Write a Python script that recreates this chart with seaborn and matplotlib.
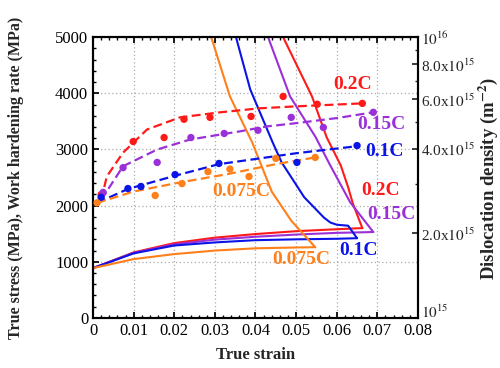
import numpy as np
import pandas as pd
import matplotlib
matplotlib.use("Agg")
import matplotlib.pyplot as plt
import seaborn as sns
from matplotlib.ticker import MultipleLocator, FixedLocator, NullFormatter, FixedFormatter

sns.set_theme(style="white")
plt.rcParams['font.family'] = ['Liberation Serif', 'DejaVu Serif']
plt.rcParams['mathtext.fontset'] = 'stix'

colors = {"0.2C": "#ff1a1a", "0.15C": "#9b30d9", "0.1C": "#0a14e6", "0.075C": "#ff7f1a"}

# True stress curves (MPa)
stress_x = {
    "0.2C":   [0.0, 0.01, 0.02, 0.03, 0.04, 0.05, 0.06, 0.0663],
    "0.15C":  [0.0, 0.01, 0.02, 0.03, 0.04, 0.05, 0.06, 0.069],
    "0.1C":   [0.0, 0.01, 0.02, 0.03, 0.04, 0.05, 0.06, 0.065],
    "0.075C": [0.0, 0.01, 0.02, 0.03, 0.04, 0.05, 0.0547],
}
stress_y = {
    "0.2C":   [887, 1167, 1333, 1430, 1494, 1545, 1580, 1600],
    "0.15C":  [887, 1160, 1310, 1395, 1446, 1485, 1515, 1530],
    "0.1C":   [887, 1150, 1290, 1345, 1385, 1400, 1410, 1420],
    "0.075C": [887, 1048, 1137, 1200, 1240, 1255, 1260],
}

# Work hardening rate curves (MPa)
whr_x = {
    "0.2C":   [0.0468, 0.0539, 0.0575, 0.0610, 0.0628, 0.0640, 0.0663],
    "0.15C":  [0.0431, 0.0485, 0.0548, 0.0582, 0.0633, 0.0690],
    "0.1C":   [0.0352, 0.0387, 0.0442, 0.0464, 0.0520, 0.0544, 0.0568, 0.0584, 0.0600, 0.0628, 0.0650],
    "0.075C": [0.0291, 0.0337, 0.0392, 0.0440, 0.0488, 0.0547],
}
whr_y = {
    "0.2C":   [5000, 3946, 3220, 2714, 2327, 2030, 1600],
    "0.15C":  [5000, 3946, 3220, 2744, 2060, 1530],
    "0.1C":   [5000, 4070, 3130, 2774, 2149, 1970, 1790, 1700, 1660, 1643, 1420],
    "0.075C": [5000, 3946, 3125, 2250, 1732, 1260],
}

# Dislocation density (x1e15 m^-2): fitted dashed curves
fit_x = {
    "0.2C":   [0.002, 0.0034, 0.0074, 0.0133, 0.0214, 0.0313, 0.041, 0.050, 0.0663],
    "0.15C":  [0.002, 0.0074, 0.0158, 0.0239, 0.0362, 0.0428, 0.050, 0.060, 0.069],
    "0.1C":   [0.001, 0.0086, 0.0202, 0.031, 0.050, 0.065],
    "0.075C": [0.001, 0.010, 0.022, 0.033, 0.045, 0.0547],
}
fit_rho = {
    "0.2C":   [2.63, 3.19, 3.88, 4.69, 5.18, 5.40, 5.58, 5.67, 5.81],
    "0.15C":  [2.63, 3.47, 3.98, 4.32, 4.62, 4.81, 4.94, 5.15, 5.40],
    "0.1C":   [2.57, 2.88, 3.21, 3.53, 3.86, 4.09],
    "0.075C": [2.57, 2.82, 3.05, 3.25, 3.53, 3.73],
}
# Dislocation density measured points (x1e15 m^-2)
pts_x = {
    "0.2C":   [0.002, 0.0099, 0.0175, 0.0224, 0.0288, 0.0389, 0.0468, 0.0552, 0.0663],
    "0.15C":  [0.0025, 0.0074, 0.0158, 0.0241, 0.0323, 0.0406, 0.0488, 0.0567, 0.069],
    "0.1C":   [0.002, 0.0086, 0.0118, 0.0202, 0.031, 0.0502, 0.065],
    "0.075C": [0.001, 0.0153, 0.0219, 0.0283, 0.0337, 0.0384, 0.045, 0.0547],
}
pts_rho = {
    "0.2C":   [2.75, 4.25, 4.39, 5.10, 5.18, 5.22, 6.15, 5.77, 5.81],
    "0.15C":  [2.80, 3.43, 3.58, 4.39, 4.54, 4.66, 5.18, 4.77, 5.40],
    "0.1C":   [2.69, 2.89, 2.94, 3.24, 3.55, 3.58, 4.11],
    "0.075C": [2.57, 2.73, 3.01, 3.32, 3.39, 3.19, 3.70, 3.73],
}

x_ticks = [0.0, 0.01, 0.02, 0.03, 0.04, 0.05, 0.06, 0.07, 0.08]
x_tick_labels = ["0", "0.01", "0.02", "0.03", "0.04", "0.05", "0.06", "0.07", "0.08"]
rho_ticks = [1e15, 2e15, 4e15, 6e15, 8e15, 1e16]
rho_labels = ["$10^{15}$", "2.0x$10^{15}$", "4.0x$10^{15}$", "6.0x$10^{15}$", "8.0x$10^{15}$", "$10^{16}$"]

fig, ax = plt.subplots(figsize=(5.0, 3.68), dpi=100)
fig.subplots_adjust(left=0.186, right=0.836, top=0.899, bottom=0.136)
ax2 = ax.twinx()

for k, c in colors.items():
    df = pd.DataFrame({"x": stress_x[k], "y": stress_y[k]})
    sns.lineplot(data=df, x="x", y="y", ax=ax, color=c, lw=1.5, sort=False, estimator=None)
    df = pd.DataFrame({"x": whr_x[k], "y": whr_y[k]})
    sns.lineplot(data=df, x="x", y="y", ax=ax, color=c, lw=1.5, sort=False, estimator=None)
    df = pd.DataFrame({"x": fit_x[k], "rho": np.array(fit_rho[k]) * 1e15})
    sns.lineplot(data=df, x="x", y="rho", ax=ax2, color=c, lw=1.6, linestyle=(0, (4, 2)),
                 sort=False, estimator=None)
    df = pd.DataFrame({"x": pts_x[k], "rho": np.array(pts_rho[k]) * 1e15})
    sns.scatterplot(data=df, x="x", y="rho", ax=ax2, color=c, s=28, edgecolor="none", zorder=5)

ax.set_xlim(0, 0.08)
ax.set_ylim(0, 5000)
ax2.set_yscale("log")
ax2.set_ylim(1e15, 1e16)
ax2.set_xlim(0, 0.08)

ax.xaxis.set_major_locator(FixedLocator(x_ticks))
ax.xaxis.set_major_formatter(FixedFormatter(x_tick_labels))
ax.xaxis.set_minor_locator(MultipleLocator(0.002))
ax.yaxis.set_major_locator(MultipleLocator(1000))
ax.yaxis.set_minor_locator(MultipleLocator(200))
ax.grid(True, which="major", color="#aaaaaa", linestyle=(0, (1, 2)), lw=0.9)
ax.tick_params(which="both", direction="in", top=True, bottom=True, left=True, right=False,
               labelsize=12, colors="black")
ax.tick_params(which="major", length=4)
ax.tick_params(which="minor", length=2)

ax2.yaxis.set_major_locator(FixedLocator(rho_ticks))
ax2.yaxis.set_major_formatter(FixedFormatter(rho_labels))
ax2.yaxis.set_minor_locator(FixedLocator([3e15, 5e15, 7e15, 9e15]))
ax2.yaxis.set_minor_formatter(NullFormatter())
ax2.tick_params(which="both", direction="in", labelsize=11, pad=2)
ax2.tick_params(which="major", length=4)
ax2.tick_params(which="minor", length=2)
ax2.set_ylabel("")
ax2.set_xlabel("")
for lbl in ax2.get_yticklabels():
    if lbl.get_text() == "$10^{15}$":
        lbl.set_va("baseline")

for a in (ax, ax2):
    for s in a.spines.values():
        s.set_color("black")
        s.set_linewidth(1.5)

ax.set_xlabel("True strain", fontsize=12, fontweight="bold", labelpad=6)
ax.set_ylabel("True stress (MPa), Work hardening rate (MPa)", fontsize=11.5, fontweight="bold")
ax.yaxis.set_label_coords(-0.212, 0.5)
fig.text(0.976, 0.516, "Dislocation density (m$^{\\mathbf{-2}}$)", rotation=90, va="center", ha="center",
         fontsize=13.5, fontweight="bold")

labels = [
    ("0.2C", 0.0638, 4161), ("0.15C", 0.0709, 3446), ("0.1C", 0.0717, 2964), ("0.075C", 0.0365, 2250),
    ("0.2C", 0.0707, 2268), ("0.15C", 0.0734, 1839), ("0.1C", 0.0653, 1196), ("0.075C", 0.0512, 1036),
]
for t, x, y in labels:
    ax.text(x, y, t, color=colors[t], fontsize=14, fontweight="bold", ha="center", va="center",
            zorder=10)

fig.savefig("out.png", dpi=100)
